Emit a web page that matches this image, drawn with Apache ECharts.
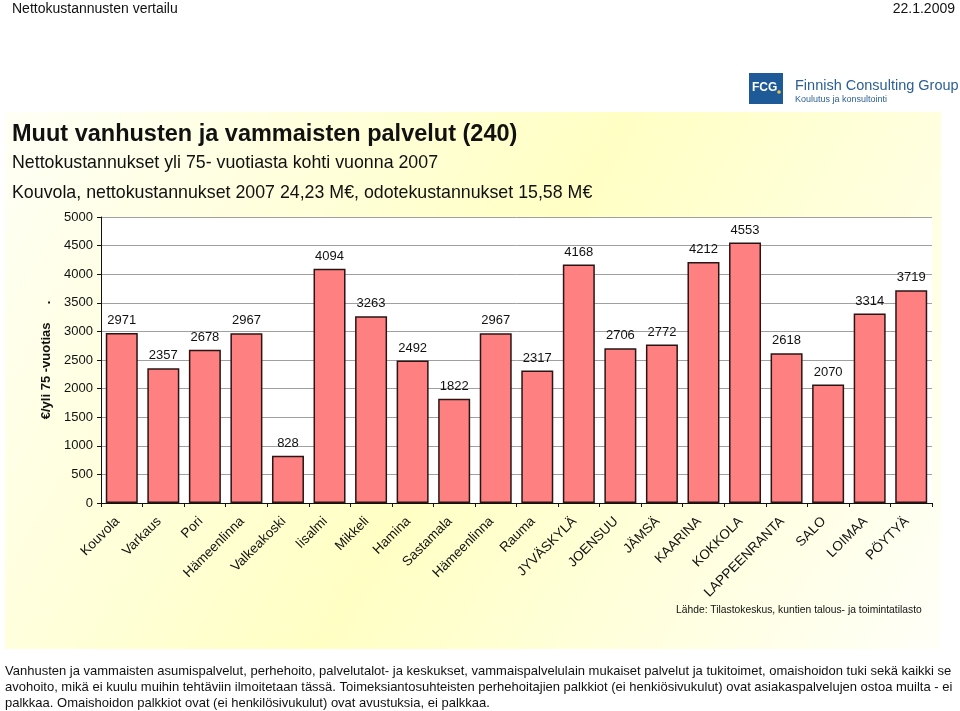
<!DOCTYPE html>
<html><head><meta charset="utf-8">
<script src="https://cdn.jsdelivr.net/npm/echarts@6/dist/echarts.min.js"></script>
<style>html,body{margin:0;padding:0;background:#fff}#c{width:960px;height:711px}</style>
</head><body><div id="c"></div>
<script>
var categories = ["Kouvola","Varkaus","Pori","Hämeenlinna","Valkeakoski","Iisalmi","Mikkeli","Hamina","Sastamala","Hämeenlinna","Rauma","JYVÄSKYLÄ","JOENSUU","JÄMSÄ","KAARINA","KOKKOLA","LAPPEENRANTA","SALO","LOIMAA","PÖYTYÄ"];
var values = [2971,2357,2678,2967,828,4094,3263,2492,1822,2967,2317,4168,2706,2772,4212,4553,2618,2070,3314,3719];
var yTicks = [0,500,1000,1500,2000,2500,3000,3500,4000,4500,5000];

var F = 'Liberation Sans, Arial, sans-serif';
var chart = echarts.init(document.getElementById('c'), null, {renderer:'canvas'});
chart.setOption({
  animation:false,
  backgroundColor:'#ffffff',
  graphic:[
    {type:'rect', z:-10, shape:{x:5,y:112,width:936,height:537},
     style:{fill:new echarts.graphic.LinearGradient(0,0,1,1,[
       {offset:0,color:'#fffff6'},{offset:0.5,color:'#ffffc4'},{offset:1,color:'#fffff8'}])}},
    {type:'text', left:12, top:2, style:{text:'Nettokustannusten vertailu', font:'14px '+F, fill:'#111'}},
    {type:'text', right:5, top:2, style:{text:'22.1.2009', font:'14px '+F, fill:'#111'}},
    {type:'rect', shape:{x:749,y:73,width:34,height:31}, style:{fill:'#1d5a97'}},
    {type:'text', left:752, top:82, style:{text:'FCG', font:'bold 12px '+F, fill:'#fff'}},
    {type:'circle', shape:{cx:779,cy:92,r:1.8}, style:{fill:'#e8c84a'}},
    {type:'text', left:795, top:78, style:{text:'Finnish Consulting Group', font:'14.5px '+F, fill:'#2b5f95'}},
    {type:'text', left:795, top:95, style:{text:'Koulutus ja konsultointi', font:'9px '+F, fill:'#2b5f95'}},
    {type:'text', left:12, top:123, style:{text:'Muut vanhusten ja vammaisten palvelut (240)', font:'bold 23.5px '+F, fill:'#111'}},
    {type:'text', left:12, top:154, style:{text:'Nettokustannukset yli 75- vuotiasta kohti vuonna 2007', font:'17.8px '+F, fill:'#111'}},
    {type:'text', left:12, top:184, style:{text:'Kouvola, nettokustannukset 2007 24,23 M€, odotekustannukset 15,58 M€', font:'17.8px '+F, fill:'#111'}},
    {type:'text', left:676, top:605, style:{text:'Lähde: Tilastokeskus, kuntien talous- ja toimintatilasto', font:'10.3px '+F, fill:'#111'}},
    {type:'text', left:5, top:665, style:{text:'Vanhusten ja vammaisten asumispalvelut, perhehoito, palvelutalot- ja keskukset, vammaispalvelulain mukaiset palvelut ja tukitoimet, omaishoidon tuki sekä kaikki se', font:'13px '+F, fill:'#111'}},
    {type:'text', left:5, top:681, style:{text:'avohoito, mikä ei kuulu muihin tehtäviin ilmoitetaan tässä. Toimeksiantosuhteisten perhehoitajien palkkiot (ei henkiösivukulut) ovat asiakaspalvelujen ostoa muilta - ei', font:'13px '+F, fill:'#111'}},
    {type:'text', left:5, top:697, style:{text:'palkkaa. Omaishoidon palkkiot ovat (ei henkilösivukulut) ovat avustuksia, ei palkkaa.', font:'13px '+F, fill:'#111'}}
  ],
  grid:{left:101, top:217, right:28, bottom:208, show:true, backgroundColor:'#ffffff', borderWidth:0},
  xAxis:{type:'category', data:categories,
    axisLine:{lineStyle:{color:'#111',width:1}},
    axisTick:{show:true, length:4, lineStyle:{color:'#111'}},
    axisLabel:{rotate:45, interval:0, fontFamily:F, fontSize:13.5, color:'#111', margin:12, padding:[0,6,0,0]}},
  yAxis:{type:'value', min:yTicks[0], max:yTicks[yTicks.length-1], interval:500,
    name:'€/yli 75 -vuotias     .', nameLocation:'middle', nameGap:28,
    nameTextStyle:{fontFamily:F, fontSize:13, fontWeight:'bold', color:'#111'},
    axisLine:{show:true, lineStyle:{color:'#111'}},
    axisTick:{show:true, length:4, lineStyle:{color:'#111'}},
    splitLine:{lineStyle:{color:'#a0a0a0', width:1}},
    axisLabel:{fontFamily:F, fontSize:13, color:'#111', margin:8, formatter:function(v){return String(v);}}},
  series:[{type:'bar', data:values, barCategoryGap:'23%',
    itemStyle:{color:'#ff8080', borderColor:'#2a1414', borderWidth:1.5},
    label:{show:true, position:'top', distance:6, fontFamily:F, fontSize:13, color:'#111'}}]
});
</script></body></html>
